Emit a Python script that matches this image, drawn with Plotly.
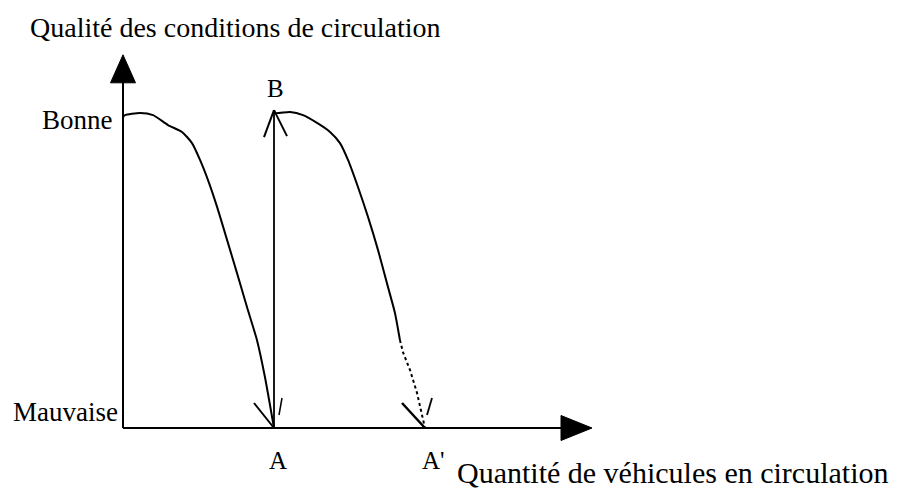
import plotly.graph_objects as go

# ---- data (abstract units: A = 1, A' = 2 on quantity; Mauvaise = 0, Bonne = 1 on quality)
quantite_avant = [0.0, 0.013, 0.113, 0.199, 0.298, 0.391, 0.457, 0.51, 0.563, 0.623, 0.689, 0.755, 0.821, 0.887, 0.94, 1.0]
qualite_avant = [1.0, 1.006, 1.013, 1.006, 0.974, 0.952, 0.916, 0.862, 0.797, 0.711, 0.605, 0.498, 0.389, 0.283, 0.164, 0.0]

quantite_apres = [1.0, 1.007, 1.106, 1.192, 1.285, 1.371, 1.437, 1.49, 1.556, 1.623, 1.689, 1.755, 1.801, 1.834]
qualite_apres = [1.022, 1.013, 1.016, 1.006, 0.981, 0.952, 0.916, 0.862, 0.775, 0.678, 0.572, 0.453, 0.370, 0.283]

quantite_apres_pointille = [1.834, 1.854, 1.901, 1.947, 1.98, 2.0]
qualite_apres_pointille = [0.283, 0.244, 0.186, 0.113, 0.042, 0.0]

point_A = 1.0
point_A2 = 2.0
point_B = 1.022
qualite_labels = ["Bonne", "Mauvaise"]
qualite_vals = [1.0, 0.0]
x_axis_end = 3.106
y_axis_end = 1.2

# ---- scales (the page body has an 8px margin, so the figure is shifted by 8px)
W, H = 900, 491
OFF = 8
X0, Y0 = 123 - OFF, 428 - OFF
X_RANGE = [-X0 / 151, (W - X0) / 151]
Y_RANGE = [(Y0 - H) / 311, Y0 / 311]
SX = W / (X_RANGE[1] - X_RANGE[0])
SY = H / (Y_RANGE[1] - Y_RANGE[0])


def off(x, y, dx, dy):
    """point offset by dx, dy pixels (dy positive = downwards on screen)"""
    return x + dx / SX, y - dy / SY


FONT = "Liberation Serif"
BLACK = "#000000"
fig = go.Figure()

# axes lines
fig.add_trace(go.Scatter(x=[0, 0], y=[0, y_axis_end - 20 / SY], mode="lines",
                         line=dict(color=BLACK, width=2)))
fig.add_trace(go.Scatter(x=[0, x_axis_end - 20 / SX], y=[0, 0], mode="lines",
                         line=dict(color=BLACK, width=2)))

# filled axis arrowheads
tx, ty = 0, y_axis_end
p1 = off(tx, ty, -12.5, 28)
p2 = off(tx, ty, 12.5, 28)
fig.add_trace(go.Scatter(x=[tx, p1[0], p2[0], tx], y=[ty, p1[1], p2[1], ty], mode="lines",
                         fill="toself", fillcolor=BLACK, line=dict(color=BLACK, width=1)))
tx, ty = x_axis_end, 0
p1 = off(tx, ty, -31, -12.5)
p2 = off(tx, ty, -31, 12.5)
fig.add_trace(go.Scatter(x=[tx, p1[0], p2[0], tx], y=[ty, p1[1], p2[1], ty], mode="lines",
                         fill="toself", fillcolor=BLACK, line=dict(color=BLACK, width=1)))

# curves
fig.add_trace(go.Scatter(x=quantite_avant, y=qualite_avant, mode="lines",
                         line=dict(color=BLACK, width=2, shape="spline", smoothing=0.6)))
fig.add_trace(go.Scatter(x=quantite_apres, y=qualite_apres, mode="lines",
                         line=dict(color=BLACK, width=2, shape="spline", smoothing=0.6)))
fig.add_trace(go.Scatter(x=quantite_apres_pointille, y=qualite_apres_pointille, mode="lines",
                         line=dict(color=BLACK, width=2, dash="dot")))

# vertical arrow A -> B
fig.add_trace(go.Scatter(x=[point_A, point_A], y=[0, point_B], mode="lines",
                         line=dict(color=BLACK, width=1.8)))


def barb(tip_x, tip_y, d_from, d_to, width=2):
    a = off(tip_x, tip_y, *d_from)
    b = off(tip_x, tip_y, *d_to)
    fig.add_trace(go.Scatter(x=[a[0], b[0]], y=[a[1], b[1]], mode="lines",
                             line=dict(color=BLACK, width=width)))


# open arrowheads
barb(point_A, 0, (-20, -25), (0, 0))
barb(point_A, 0, (5, -13), (8, -30), 1.5)
barb(point_A, point_B, (-10, 27), (0, 0))
barb(point_A, point_B, (13, 26), (0, 0))
barb(point_A2, 0, (-23, -25), (0, 0), 2.5)
barb(point_A2, 0, (2, -13), (7, -30), 1.8)


def px_paper(x, y):
    return (x - OFF) / W, 1 - (y - OFF) / H


# labels
ann = []
tx_, ty_ = px_paper(28, 28)
ann.append(dict(x=tx_, y=ty_, xref="paper", yref="paper", xanchor="left", yanchor="middle",
                text="Qualité des conditions de circulation", showarrow=False,
                font=dict(family=FONT, size=28, color=BLACK)))
tx_, ty_ = px_paper(455, 472)
ann.append(dict(x=tx_, y=ty_, xref="paper", yref="paper", xanchor="left", yanchor="middle",
                text="Quantité de véhicules en circulation", showarrow=False,
                font=dict(family=FONT, size=30, color=BLACK)))
ann.append(dict(x=0, y=qualite_vals[0], xanchor="right", yanchor="middle", xshift=-8, yshift=-3,
                text=qualite_labels[0], showarrow=False, font=dict(family=FONT, size=27, color=BLACK)))
ann.append(dict(x=0, y=qualite_vals[1], xanchor="right", yanchor="middle", xshift=-3, yshift=16,
                text=qualite_labels[1], showarrow=False, font=dict(family=FONT, size=27, color=BLACK)))
ann.append(dict(x=point_A, y=0, xanchor="center", yanchor="middle", xshift=4, yshift=-32,
                text="A", showarrow=False, font=dict(family=FONT, size=25, color=BLACK)))
ann.append(dict(x=point_A2, y=0, xanchor="center", yanchor="middle", xshift=8, yshift=-32,
                text="A'", showarrow=False, font=dict(family=FONT, size=25, color=BLACK)))
ann.append(dict(x=point_A, y=point_B, xanchor="center", yanchor="middle", xshift=1, yshift=22,
                text="B", showarrow=False, font=dict(family=FONT, size=25, color=BLACK)))

fig.update_layout(
    width=W, height=H, autosize=False,
    margin=dict(l=0, r=0, t=0, b=0, pad=0),
    paper_bgcolor="white", plot_bgcolor="white",
    showlegend=False,
    xaxis=dict(visible=False, range=X_RANGE, fixedrange=True),
    yaxis=dict(visible=False, range=Y_RANGE, fixedrange=True),
    annotations=ann,
)

fig.write_html("out.html")
